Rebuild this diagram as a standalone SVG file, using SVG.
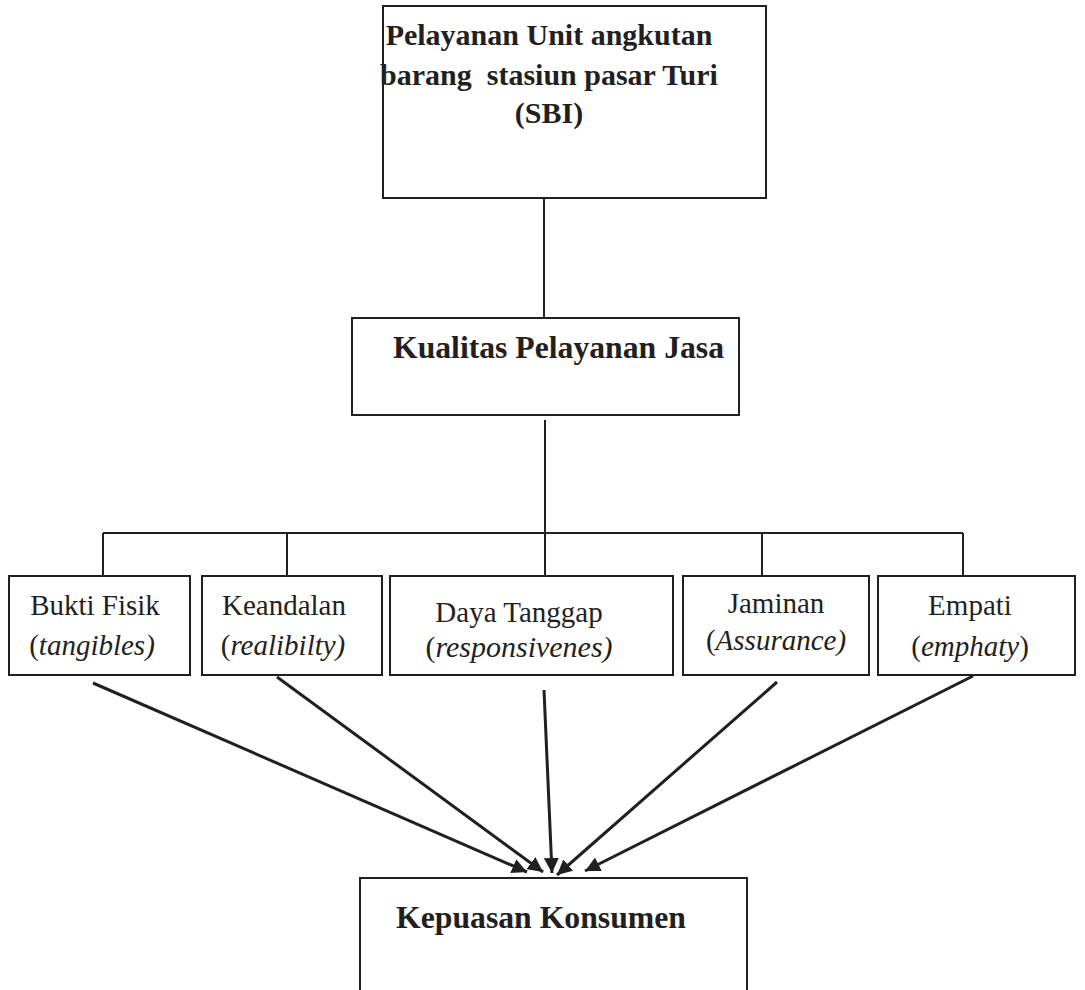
<svg xmlns="http://www.w3.org/2000/svg" width="1085" height="990" viewBox="0 0 1085 990">
<style>
.box{fill:#fff;stroke:#231f20;stroke-width:2}
.ln{stroke:#231f20;stroke-width:2;fill:none}
.ar{stroke:#231f20;stroke-width:3;fill:none}
.b{font-family:"Liberation Serif","Times New Roman",serif;font-weight:bold;font-size:30px;fill:#231f20;text-anchor:middle}
.t{font-family:"Liberation Serif","Times New Roman",serif;font-size:29px;fill:#231f20;text-anchor:middle}
.s{text-anchor:start}
.i{font-style:italic}
</style>
<defs>
<marker id="ah" viewBox="0 0 10 10" refX="10" refY="5" markerWidth="5" markerHeight="5" orient="auto" markerUnits="strokeWidth">
<path d="M0,0 L10,5 L0,10 z" fill="#231f20"/>
</marker>
</defs>
<g id="connectors">
<line class="ln" x1="544" y1="198" x2="544" y2="318"/>
<line class="ln" x1="545" y1="420" x2="545" y2="533"/>
<line class="ln" x1="103" y1="533" x2="963" y2="533"/>
<line class="ln" x1="103" y1="533" x2="103" y2="576"/>
<line class="ln" x1="287" y1="533" x2="287" y2="576"/>
<line class="ln" x1="545" y1="533" x2="545" y2="576"/>
<line class="ln" x1="762" y1="533" x2="762" y2="576"/>
<line class="ln" x1="963" y1="533" x2="963" y2="576"/>
<line class="ar" x1="93" y1="683" x2="527" y2="872" marker-end="url(#ah)"/>
<line class="ar" x1="277" y1="677" x2="543" y2="872" marker-end="url(#ah)"/>
<line class="ar" x1="544" y1="690" x2="552" y2="873" marker-end="url(#ah)"/>
<line class="ar" x1="777" y1="682" x2="557" y2="875" marker-end="url(#ah)"/>
<line class="ar" x1="973" y1="676" x2="585" y2="871" marker-end="url(#ah)"/>
</g>
<g id="node-pelayanan">
<rect class="box" x="383" y="6" width="383" height="192"/>
<text class="b" x="549" y="45">Pelayanan Unit angkutan</text>
<text class="b" x="549" y="85" xml:space="preserve">barang  stasiun pasar Turi</text>
<text class="b" x="549" y="123">(SBI)</text>
</g>
<g id="node-kualitas">
<rect class="box" x="352" y="318" width="387" height="97"/>
<text class="b s" x="393" y="358" textLength="331" lengthAdjust="spacingAndGlyphs" style="font-size:31px">Kualitas Pelayanan Jasa</text>
</g>
<g id="node-bukti">
<rect class="box" x="9" y="576" width="181" height="99"/>
<text class="t" x="95" y="615">Bukti Fisik</text>
<text class="t" x="92" y="655">(<tspan class="i">tangibles)</tspan></text>
</g>
<g id="node-keandalan">
<rect class="box" x="202" y="576" width="180" height="99"/>
<text class="t" x="284" y="615">Keandalan</text>
<text class="t" x="283" y="655">(<tspan class="i">realibilty)</tspan></text>
</g>
<g id="node-daya">
<rect class="box" x="390" y="576" width="283" height="99"/>
<text class="t" x="519" y="622" style="font-size:29px">Daya Tanggap</text>
<text class="t" x="519" y="657" style="font-size:30px">(<tspan class="i">responsivenes)</tspan></text>
</g>
<g id="node-jaminan">
<rect class="box" x="683" y="576" width="186" height="99"/>
<text class="t" x="776" y="613">Jaminan</text>
<text class="t" x="776" y="650">(<tspan class="i">Assurance)</tspan></text>
</g>
<g id="node-empati">
<rect class="box" x="878" y="576" width="197" height="99"/>
<text class="t" x="970" y="615">Empati</text>
<text class="t" x="970" y="656">(<tspan class="i">emphaty</tspan>)</text>
</g>
<g id="node-kepuasan">
<rect class="box" x="360" y="878" width="387" height="130"/>
<text class="b s" x="396" y="928" textLength="290" lengthAdjust="spacingAndGlyphs" style="font-size:31px">Kepuasan Konsumen</text>
</g>
</svg>
